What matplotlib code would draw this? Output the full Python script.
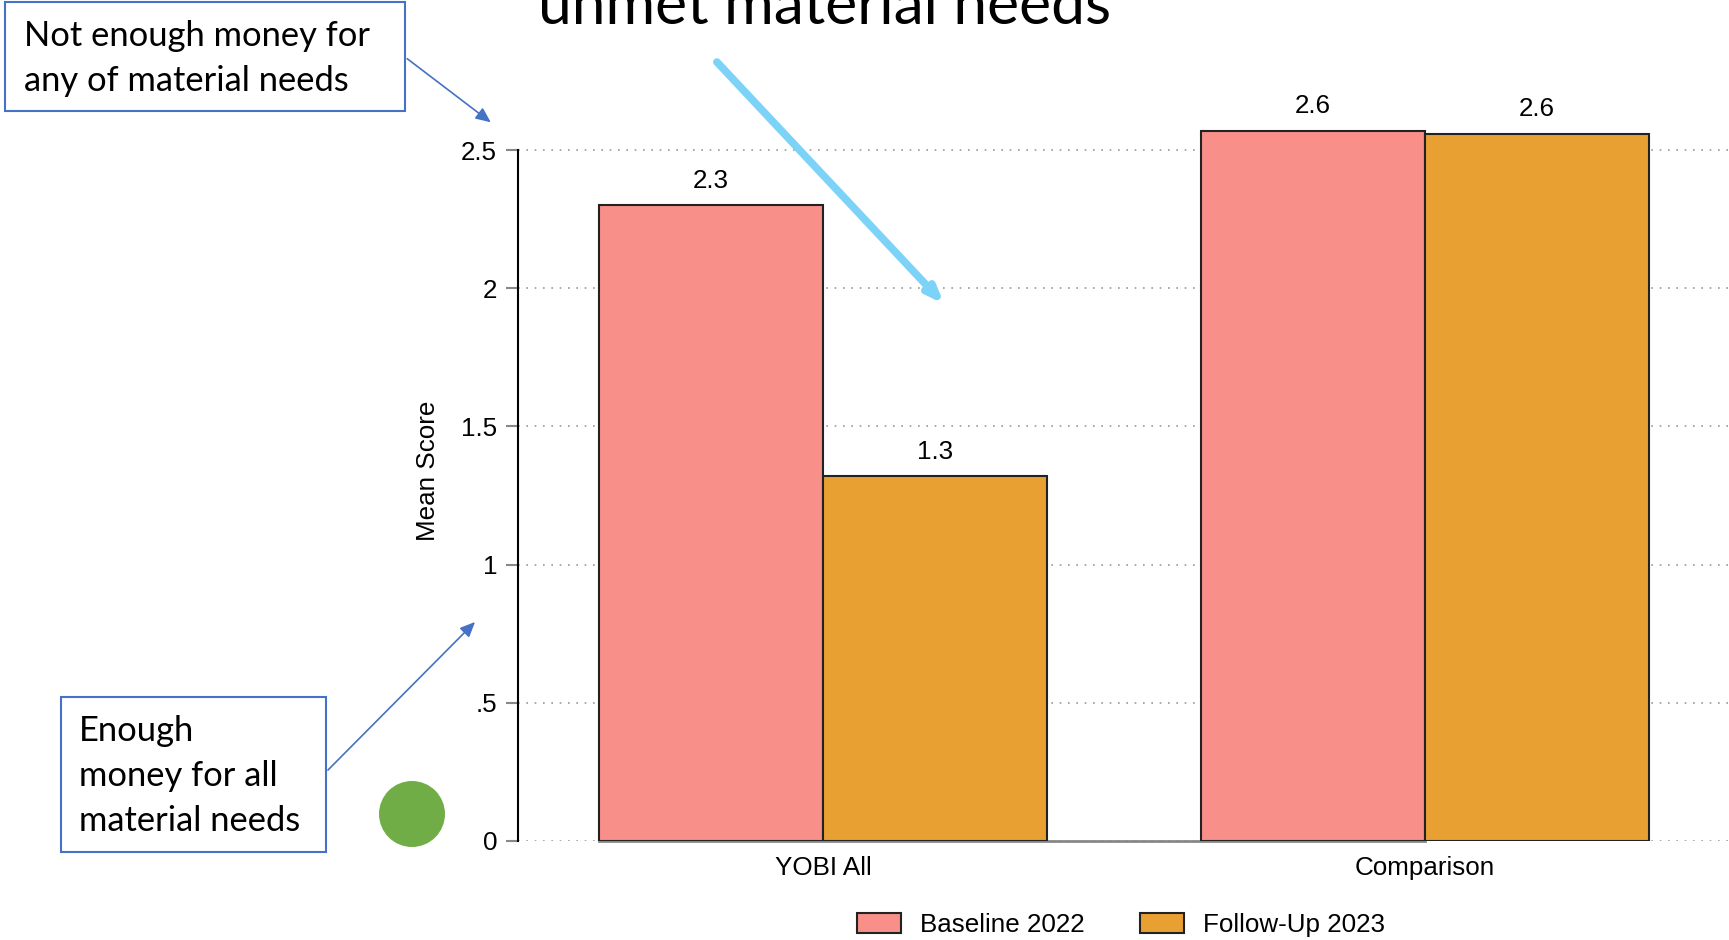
import numpy as np
import matplotlib.pyplot as plt
from matplotlib.patches import Rectangle, Ellipse, Patch

groups = ['YOBI All', 'Comparison']
series = ['Baseline 2022', 'Follow-Up 2023']
baseline = [2.30, 2.57]
followup = [1.32, 2.56]
yticks = [0, 0.5, 1, 1.5, 2, 2.5]
ytick_labels = ['0', '.5', '1', '1.5', '2', '2.5']
colors = ['#F88F88', '#E8A033']

W, H = 1729, 940
fig = plt.figure(figsize=(W / 100, H / 100), dpi=100)
plt.rcParams['font.family'] = ['Liberation Sans', 'DejaVu Sans']
fs = 18.7

def fx(x):
    return x / W

def fy(y):
    return 1 - y / H

ax = fig.add_axes([fx(518), fy(841), 1 - fx(518), fy(81) - fy(841)])
x = np.arange(len(groups))
bw = 0.3724
for i, (vals, c) in enumerate(zip([baseline, followup], colors)):
    pos = x + (i - 0.5) * bw
    ax.bar(pos, vals, bw, color=c, edgecolor='#222222', linewidth=1.5, zorder=3)
    for p, v in zip(pos, vals):
        ax.annotate('%.1f' % v, (p, v), xytext=(0, 9), textcoords='offset points',
                    ha='center', va='bottom', fontsize=fs)

ax.set_xlim(-0.507, 1.506)
ax.set_ylim(0, 2.75)
ax.set_yticks(yticks)
ax.set_yticklabels(ytick_labels, fontsize=fs)
ax.set_xticks(x)
ax.set_xticklabels(groups, fontsize=fs)
ax.tick_params(axis='x', length=0, pad=11)
ax.tick_params(axis='y', length=9, width=1.5, color='#888888', pad=6)
ax.grid(axis='y', linestyle=(0, (1, 4)), color='#999999', linewidth=1.2, zorder=0)
for s in ['top', 'right']:
    ax.spines[s].set_visible(False)
ax.spines['left'].set_bounds(0, 2.5)
ax.spines['left'].set_linewidth(1.5)
ax.spines['bottom'].set_bounds(-bw, 1.0)
ax.spines['bottom'].set_color('#888888')
ax.spines['bottom'].set_linewidth(2)
ax.set_ylabel('Mean Score', fontsize=fs)
ax.yaxis.set_label_coords(-0.064, 0.487)

handles = [Patch(facecolor=c, edgecolor='#222222', linewidth=1.5) for c in colors]
fig.legend(handles, series, loc='center', bbox_to_anchor=(fx(1121), fy(925)),
           ncol=2, frameon=False, fontsize=fs, handlelength=1.7, handleheight=0.78,
           handletextpad=0.75, columnspacing=2.1)

# callout boxes, arrows and marker drawn on top of the chart
fig.text(fx(825), fy(24), 'unmet material needs', ha='center', va='baseline',
         fontsize=43.5, family='Lato')

box_col = '#4472C4'
fig.add_artist(Rectangle((fx(5), fy(111)), fx(400), fy(2) - fy(111), transform=fig.transFigure,
                         facecolor='white', edgecolor=box_col, linewidth=1.5))
for txt, yy in [('Not enough money for', 36), ('any of material needs', 81)]:
    fig.text(fx(24), fy(yy), txt, ha='left', va='center', fontsize=24.8, family='Lato')

fig.add_artist(Rectangle((fx(61), fy(852)), fx(265), fy(697) - fy(852), transform=fig.transFigure,
                         facecolor='white', edgecolor=box_col, linewidth=1.5))
for txt, yy in [('Enough', 731), ('money for all', 776), ('material needs', 821)]:
    fig.text(fx(79), fy(yy), txt, ha='left', va='center', fontsize=24.8, family='Lato')

arrow_kw = dict(arrowstyle='-|>,head_length=0.9,head_width=0.4', color=box_col, lw=1.2)
fig.add_artist(plt.Annotation('', xy=(fx(493), fy(124)), xytext=(fx(405), fy(57)),
                              xycoords='figure fraction', arrowprops=arrow_kw))
fig.add_artist(plt.Annotation('', xy=(fx(477), fy(620)), xytext=(fx(326), fy(772)),
                              xycoords='figure fraction', arrowprops=arrow_kw))
fig.add_artist(plt.Annotation('', xy=(fx(946), fy(306)), xytext=(fx(715), fy(60)),
                              xycoords='figure fraction',
                              arrowprops=dict(arrowstyle='-|>,head_length=0.9,head_width=0.35',
                                              color='#7DD3F7', lw=5.5)))

fig.add_artist(Ellipse((fx(412), fy(814)), fx(66), 66 / H, transform=fig.transFigure,
                       facecolor='#70AD47', edgecolor='none'))

fig.savefig('out.png', dpi=100)
